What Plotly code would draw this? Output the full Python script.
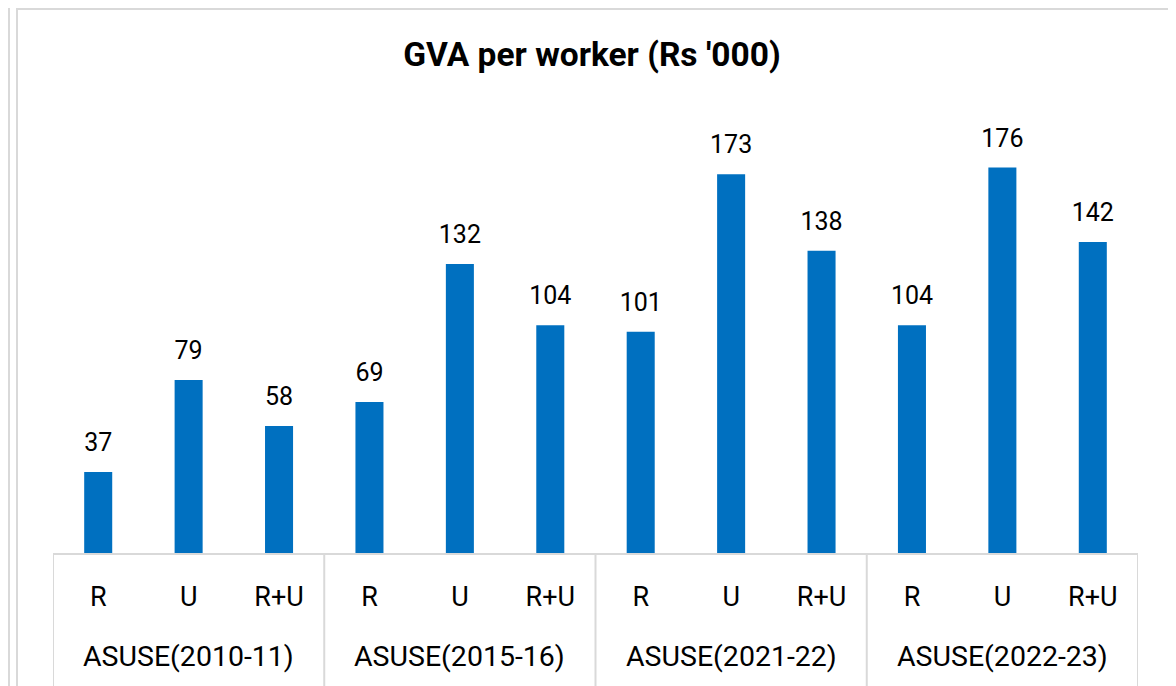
import plotly.graph_objects as go

surveys = ["ASUSE(2010-11)", "ASUSE(2015-16)", "ASUSE(2021-22)", "ASUSE(2022-23)"]
sectors = ["R", "U", "R+U"]
gva = [37, 79, 58, 69, 132, 104, 101, 173, 138, 104, 176, 142]

n_sec = len(sectors)
xpos = list(range(len(gva)))
inner_labels = [c for _ in surveys for c in sectors]

BLUE = "#0070C0"
GRID = "#D9D9D9"
FONT = "Roboto"

# page body has an 8px margin: figure origin sits at (8, 8) in the window
OFF = 8
W, H = 1168, 678
L, R = 53 - OFF, W - (1138 - OFF)
B = H - (553 - OFF)
T = 115 - OFF
PW, PH = W - L - R, H - T - B

def px_x(page_x):
    return (page_x - OFF - L) / PW

def px_y(page_y):
    return (553 - page_y) / PH

fig = go.Figure()
fig.add_trace(go.Bar(
    x=xpos, y=gva,
    marker=dict(color=BLUE, line=dict(width=0)),
    width=0.31, hoverinfo="skip", showlegend=False,
))
fig.add_trace(go.Scatter(
    x=xpos, y=gva, mode="markers+text",
    text=[str(v) for v in gva], textposition="top center",
    textfont=dict(family=FONT, size=25, color="#000000"),
    marker=dict(size=22, color="rgba(0,0,0,0)"),
    hoverinfo="skip", showlegend=False, cliponaxis=False,
))

fig.update_layout(
    width=W, height=H,
    margin=dict(l=L, r=R, t=T, b=B, autoexpand=False),
    paper_bgcolor="white", plot_bgcolor="white",
    title=dict(text="<b>GVA per worker (Rs '000)</b>", x=0.5, xanchor="center",
               y=1 - (54 - OFF) / H, yanchor="middle", yref="container",
               font=dict(family=FONT, size=33.5, color="#000000")),
    font=dict(family=FONT, color="#000000"),
    xaxis=dict(range=[-0.5, len(gva) - 0.5], showline=True, linecolor=GRID, linewidth=2,
               tickmode="array", tickvals=xpos, ticktext=inner_labels,
               tickfont=dict(family=FONT, size=27, color="#000000"),
               ticks="", showgrid=False, zeroline=False, ticklabelstandoff=19),
    yaxis=dict(range=[0, 200], visible=False, showgrid=False, zeroline=False),
)

# group labels and dividers below the axis
for g, name in enumerate(surveys):
    fig.add_annotation(x=g * n_sec + (n_sec - 1) / 2, xref="x",
                       y=px_y(656), yref="paper", yanchor="middle",
                       text=name, showarrow=False,
                       font=dict(family=FONT, size=28.5, color="#000000"))
for g in range(len(surveys) + 1):
    xd = g * n_sec - 0.5
    fig.add_shape(type="line", xref="x", yref="paper", x0=xd, x1=xd,
                  y0=0, y1=px_y(700), line=dict(color=GRID, width=2))

# chart area border and outer left edge line
fig.add_shape(type="rect", xref="paper", yref="paper",
              x0=px_x(17), x1=px_x(1172),
              y0=px_y(720), y1=px_y(OFF + 1),
              line=dict(color=GRID, width=2), layer="below")
fig.add_shape(type="line", xref="paper", yref="paper",
              x0=px_x(OFF + 1), x1=px_x(OFF + 1),
              y0=px_y(720), y1=px_y(OFF),
              line=dict(color=GRID, width=2), layer="below")

fig.write_html("out.html")
